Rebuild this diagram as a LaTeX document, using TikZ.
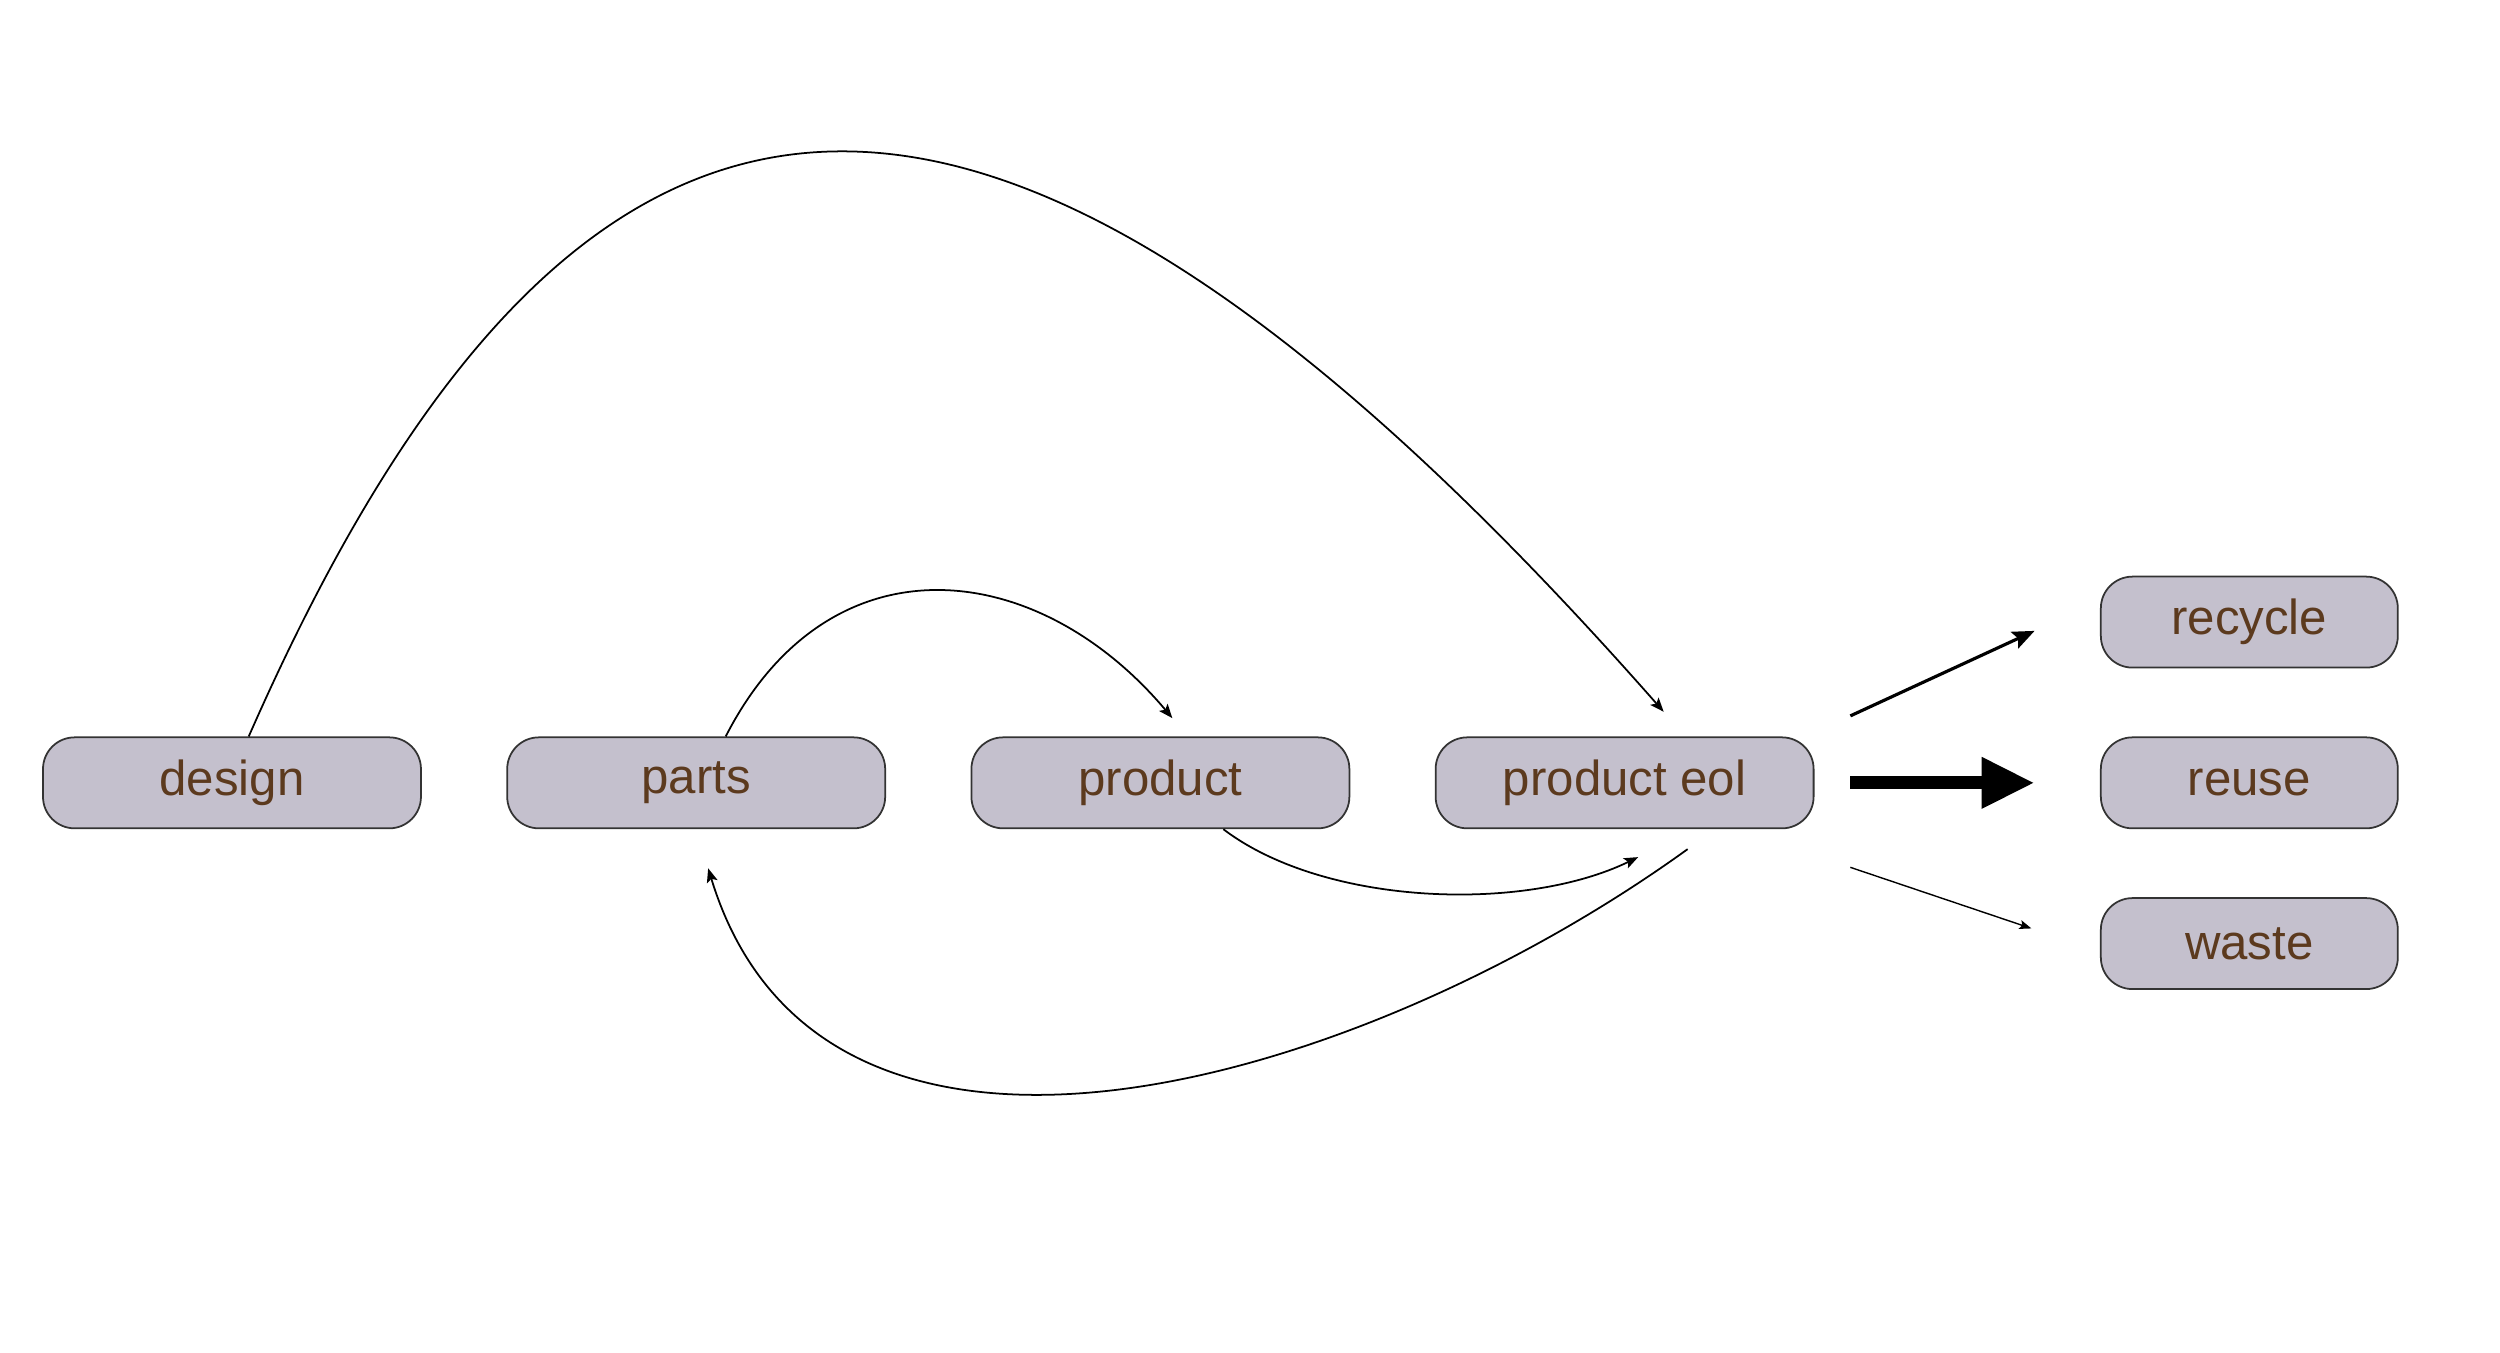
\documentclass[tikz,border=0pt]{standalone}
\usepackage{fontspec}
\setmainfont{Liberation Sans}
\usepackage{tikz}
\usetikzlibrary{arrows.meta,positioning}
\definecolor{boxlilac}{RGB}{196,192,205}
\definecolor{labelbrown}{RGB}{92,58,30}

\tikzset{
    stage/.style={rounded corners=9pt, draw=black!80, line width=0.5pt, fill=boxlilac,
        minimum width=3.78cm, minimum height=0.91cm, inner sep=0pt,
        text=labelbrown, font=\fontsize{14}{16}\selectfont},
    outcome/.style={stage, minimum width=2.97cm},
    flow/.style={line width=0.5pt, -{Stealth[length=1.4mm,width=1.1mm,inset=0.3mm]}}
}

\begin{document}
\begin{tikzpicture}[x=0.015944cm, y=-0.015944cm]
            \useasboundingbox (0,0) rectangle (1568,848);

            % main chain
            \node[stage] (design) at (145.5,491) {design};
            \node[stage, right=0.845cm of design] (parts) {parts};
            \node[stage, right=0.845cm of parts] (product) {product};
            \node[stage, right=0.845cm of product] (eol) {product eol};

            % end of life routes
            \node[outcome, right=2.855cm of eol] (reuse) {reuse};
            \node[outcome, above=0.68cm of reuse] (recycle) {recycle};
            \node[outcome, below=0.68cm of reuse] (waste) {waste};

            % loops
            \draw[flow] ([shift={(10.5,0)}]design.north) .. controls +(210,-478) and +(-421,-478) .. ([shift={(24.5,-15.5)}]eol.north);
            \draw[flow] ([shift={(18.5,0)}]parts.north) .. controls +(65,-127) and +(-85,-101) .. ([shift={(7.5,-11.5)}]product.north);
            \draw[flow] ([shift={(39.5,0)}]product.south) .. controls +(63,48) and +(-72,35) .. ([shift={(8.5,17.5)}]eol.south);
            \draw[flow] ([shift={(39.5,12.5)}]eol.south) .. controls +(-205,148) and +(72,236) .. ([shift={(7.5,24.5)}]parts.south);

            % weighted outflows
            \draw[line width=0.9pt, -{Stealth[length=2.2mm,width=1.8mm,inset=0.4mm]}] ([shift={(22.5,-42)}]eol.east) -- ([shift={(-41,5.5)}]recycle.west);
            \draw[line width=3.7pt, -{Triangle[length=5.3mm,width=4.8mm]}] ([shift={(22.5,0)}]eol.east) -- ([shift={(-41,0)}]reuse.west);
            \draw[line width=0.4pt, -{Stealth[length=1.2mm,width=0.9mm,inset=0.25mm]}] ([shift={(22.5,53)}]eol.east) -- ([shift={(-43,-9.5)}]waste.west);
        \end{tikzpicture}
\end{document}
